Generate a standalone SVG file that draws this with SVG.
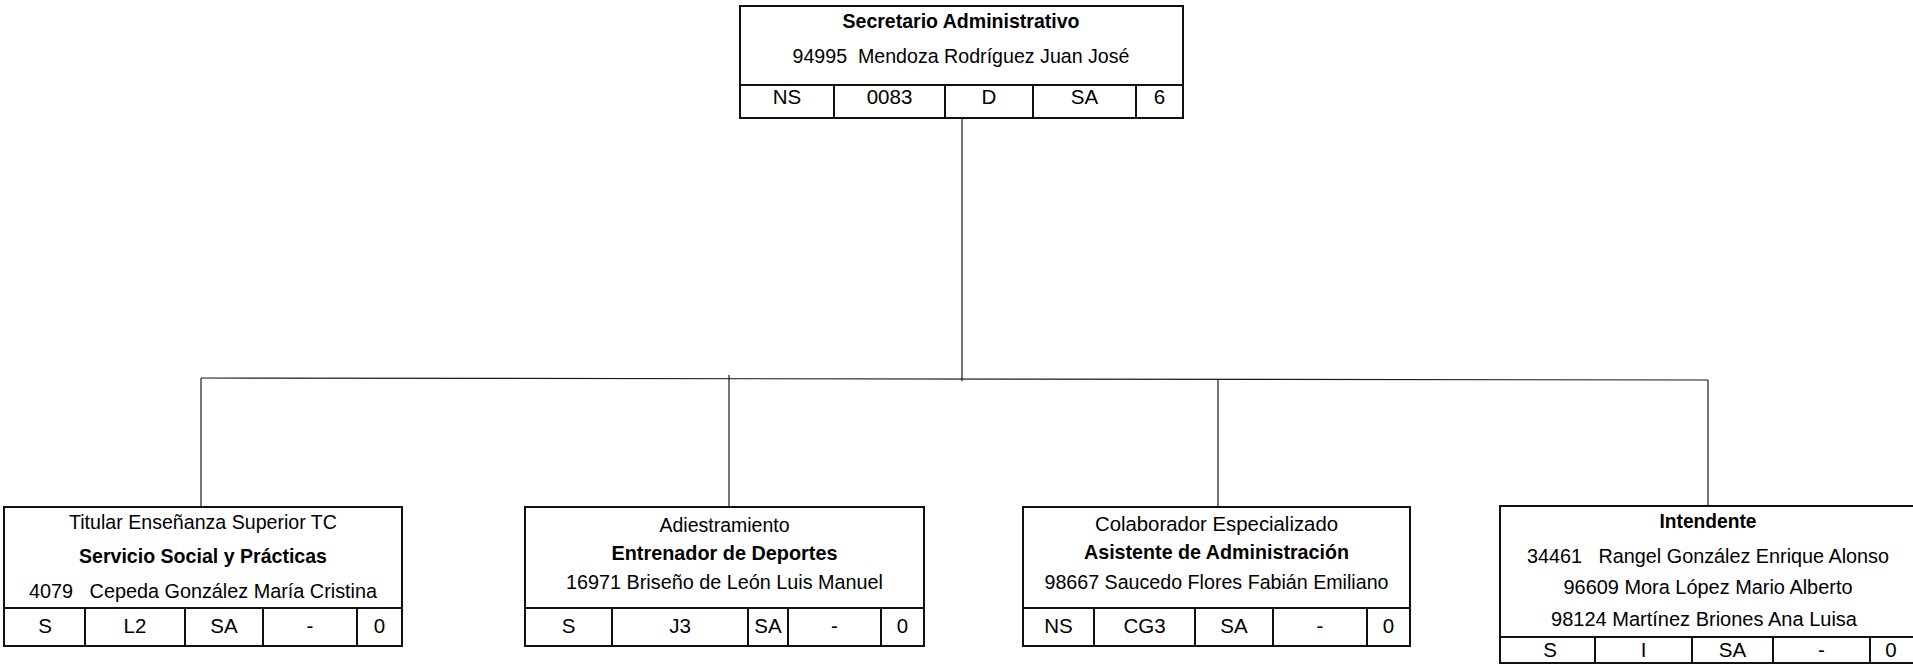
<svg xmlns="http://www.w3.org/2000/svg" width="1913" height="665" viewBox="0 0 1913 665">
<style>
.box{fill:#fff;stroke:#111;stroke-width:2}
.ln{stroke:#111;stroke-width:2;fill:none}
.con{stroke:#1a1a1a;stroke-width:1.2;fill:none}
text{font-family:"Liberation Sans",Arial,sans-serif;font-size:20.5px;fill:#000;text-anchor:middle;white-space:pre}
.b{font-weight:bold}
</style>
<rect width="1913" height="665" fill="#fff"/>
<g id="connectors">
<line class="con" x1="962" y1="118" x2="962" y2="381"/>
<line class="con" x1="201" y1="378" x2="1708" y2="380"/>
<line class="con" x1="201" y1="378" x2="201" y2="507"/>
<line class="con" x1="729" y1="375" x2="729" y2="507"/>
<line class="con" x1="1218" y1="379" x2="1218" y2="507"/>
<line class="con" x1="1708" y1="380" x2="1708" y2="506"/>
</g>
<g id="node-secretario">
<rect class="box" x="740" y="6" width="443" height="112"/>
<line class="ln" x1="740" y1="85" x2="1183" y2="85"/>
<line class="ln" x1="834" y1="85" x2="834" y2="118"/>
<line class="ln" x1="945" y1="85" x2="945" y2="118"/>
<line class="ln" x1="1033" y1="85" x2="1033" y2="118"/>
<line class="ln" x1="1136" y1="85" x2="1136" y2="118"/>
<text class="b" x="961" y="28" textLength="237" lengthAdjust="spacingAndGlyphs">Secretario Administrativo</text>
<text x="961" y="63" textLength="337" lengthAdjust="spacingAndGlyphs">94995  Mendoza Rodríguez Juan José</text>
<text x="787" y="104">NS</text>
<text x="889.5" y="104">0083</text>
<text x="989" y="104">D</text>
<text x="1084.5" y="104">SA</text>
<text x="1159.5" y="104">6</text>
</g>
<g id="node-servicio-social">
<rect class="box" x="4" y="507" width="398" height="139"/>
<line class="ln" x1="4" y1="608" x2="402" y2="608"/>
<line class="ln" x1="85" y1="608" x2="85" y2="646"/>
<line class="ln" x1="185" y1="608" x2="185" y2="646"/>
<line class="ln" x1="263" y1="608" x2="263" y2="646"/>
<line class="ln" x1="357" y1="608" x2="357" y2="646"/>
<text x="203" y="529" textLength="268" lengthAdjust="spacingAndGlyphs">Titular Enseñanza Superior TC</text>
<text class="b" x="203" y="563" textLength="248" lengthAdjust="spacingAndGlyphs">Servicio Social y Prácticas</text>
<text x="203" y="598" textLength="348" lengthAdjust="spacingAndGlyphs">4079   Cepeda González María Cristina</text>
<text x="45" y="633">S</text>
<text x="135" y="633">L2</text>
<text x="224" y="633">SA</text>
<text x="310" y="633">-</text>
<text x="379.5" y="633">0</text>
</g>
<g id="node-entrenador">
<rect class="box" x="525" y="507" width="399" height="139"/>
<line class="ln" x1="525" y1="608" x2="924" y2="608"/>
<line class="ln" x1="612" y1="608" x2="612" y2="646"/>
<line class="ln" x1="748" y1="608" x2="748" y2="646"/>
<line class="ln" x1="788" y1="608" x2="788" y2="646"/>
<line class="ln" x1="881" y1="608" x2="881" y2="646"/>
<text x="724.5" y="532" textLength="130" lengthAdjust="spacingAndGlyphs">Adiestramiento</text>
<text class="b" x="724.5" y="560" textLength="226" lengthAdjust="spacingAndGlyphs">Entrenador de Deportes</text>
<text x="724.5" y="589" textLength="317" lengthAdjust="spacingAndGlyphs">16971 Briseño de León Luis Manuel</text>
<text x="568.5" y="633">S</text>
<text x="680" y="633">J3</text>
<text x="768" y="633">SA</text>
<text x="834.5" y="633">-</text>
<text x="902.5" y="633">0</text>
</g>
<g id="node-asistente">
<rect class="box" x="1023" y="507" width="387" height="139"/>
<line class="ln" x1="1023" y1="608" x2="1410" y2="608"/>
<line class="ln" x1="1094" y1="608" x2="1094" y2="646"/>
<line class="ln" x1="1195" y1="608" x2="1195" y2="646"/>
<line class="ln" x1="1273" y1="608" x2="1273" y2="646"/>
<line class="ln" x1="1367" y1="608" x2="1367" y2="646"/>
<text x="1216.5" y="531" textLength="243" lengthAdjust="spacingAndGlyphs">Colaborador Especializado</text>
<text class="b" x="1216.5" y="559" textLength="265" lengthAdjust="spacingAndGlyphs">Asistente de Administración</text>
<text x="1216.5" y="589" textLength="344" lengthAdjust="spacingAndGlyphs">98667 Saucedo Flores Fabián Emiliano</text>
<text x="1058.5" y="633">NS</text>
<text x="1144.5" y="633">CG3</text>
<text x="1234" y="633">SA</text>
<text x="1320" y="633">-</text>
<text x="1388.5" y="633">0</text>
</g>
<g id="node-intendente">
<rect class="box" x="1500" y="506" width="416" height="157"/>
<line class="ln" x1="1500" y1="637" x2="1916" y2="637"/>
<line class="ln" x1="1595" y1="637" x2="1595" y2="663"/>
<line class="ln" x1="1692" y1="637" x2="1692" y2="663"/>
<line class="ln" x1="1773" y1="637" x2="1773" y2="663"/>
<line class="ln" x1="1870" y1="637" x2="1870" y2="663"/>
<text class="b" x="1708" y="528" textLength="97" lengthAdjust="spacingAndGlyphs">Intendente</text>
<text x="1708" y="563" textLength="362" lengthAdjust="spacingAndGlyphs">34461   Rangel González Enrique Alonso</text>
<text x="1708" y="594" textLength="289" lengthAdjust="spacingAndGlyphs">96609 Mora López Mario Alberto</text>
<text x="1704" y="626" textLength="306" lengthAdjust="spacingAndGlyphs">98124 Martínez Briones Ana Luisa</text>
<text x="1550" y="657">S</text>
<text x="1643.5" y="657">I</text>
<text x="1732.5" y="657">SA</text>
<text x="1821.5" y="657">-</text>
<text x="1891" y="657">0</text>
</g>
</svg>
